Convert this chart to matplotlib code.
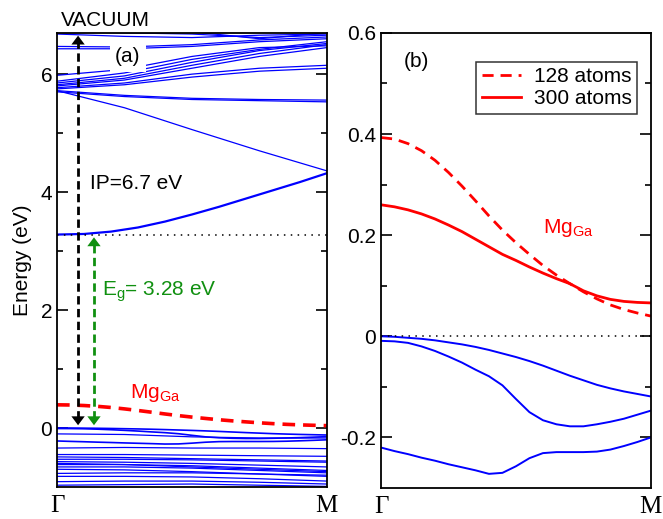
import numpy as np
import matplotlib
matplotlib.use("Agg")
import matplotlib.pyplot as plt
from matplotlib.ticker import FixedLocator, FuncFormatter

plt.rcParams['font.family'] = ['Liberation Sans', 'DejaVu Sans']
plt.rcParams['mathtext.fontset'] = 'custom'
plt.rcParams['mathtext.rm'] = 'Liberation Sans'
plt.rcParams['mathtext.it'] = 'Liberation Sans:italic'
plt.rcParams['axes.unicode_minus'] = False

BLUE = '#0000ff'
RED = '#ff0000'
GREEN = '#109010'

# k path Gamma -> M, coarse grid for the full band structure
k5 = [0.0, 0.25, 0.5, 0.75, 1.0]
# finer grid for the close-up bands
k21 = [i / 20 for i in range(21)]
k11 = [i / 10 for i in range(11)]

gap = 3.28
vacuum = 6.7

# lowest conduction band
cbm = [3.28, 3.29, 3.33, 3.40, 3.50, 3.62, 3.75, 3.89, 4.03, 4.17, 4.32]

# higher conduction bands (values at k5)
cb_high = [
    [5.72, 5.43, 5.06, 4.70, 4.36],
    [5.70, 5.62, 5.57, 5.55, 5.53],
    [5.72, 5.64, 5.59, 5.57, 5.56],
    [5.75, 5.82, 5.95, 6.05, 6.10],
    [5.77, 5.85, 6.00, 6.10, 6.15],
    [5.80, 5.90, 6.10, 6.30, 6.45],
    [5.82, 5.93, 6.15, 6.35, 6.50],
    [5.85, 5.97, 6.20, 6.40, 6.52],
    [5.88, 6.02, 6.25, 6.42, 6.55],
    [5.98, 6.08, 6.30, 6.45, 6.48],
    [6.43, 6.43, 6.47, 6.55, 6.60],
    [6.47, 6.46, 6.50, 6.58, 6.63],
    [6.68, 6.64, 6.62, 6.66, 6.68],
    [6.72, 6.70, 6.68, 6.62, 6.66],
    [6.70, 6.71, 6.72, 6.60, 6.70],
]

# top three valence bands (values at k21)
vb1 = [0.000, -0.001, -0.003, -0.005, -0.008, -0.012, -0.016, -0.021, -0.027, -0.034, -0.041,
       -0.049, -0.058, -0.068, -0.078, -0.087, -0.096, -0.103, -0.109, -0.114, -0.119]
vb2 = [-0.009, -0.010, -0.013, -0.020, -0.029, -0.040, -0.052, -0.066, -0.079, -0.097, -0.124,
       -0.150, -0.166, -0.174, -0.178, -0.178, -0.174, -0.169, -0.163, -0.155, -0.147]
vb3 = [-0.220, -0.227, -0.233, -0.240, -0.246, -0.253, -0.259, -0.265, -0.272, -0.270, -0.257,
       -0.241, -0.231, -0.229, -0.229, -0.229, -0.228, -0.224, -0.217, -0.209, -0.200]

# deeper valence bands (values at k5)
vb_low = [
    [-0.10, -0.11, -0.15, -0.17, -0.17],
    [-0.34, -0.33, -0.34, -0.34, -0.35],
    [-0.45, -0.45, -0.46, -0.47, -0.48],
    [-0.49, -0.50, -0.52, -0.54, -0.56],
    [-0.53, -0.53, -0.54, -0.56, -0.58],
    [-0.57, -0.58, -0.60, -0.63, -0.66],
    [-0.60, -0.62, -0.66, -0.70, -0.74],
    [-0.62, -0.62, -0.64, -0.68, -0.72],
    [-0.66, -0.66, -0.68, -0.72, -0.76],
    [-0.70, -0.71, -0.74, -0.78, -0.82],
    [-0.77, -0.76, -0.76, -0.78, -0.80],
    [-0.82, -0.82, -0.83, -0.86, -0.90],
    [-0.91, -0.90, -0.90, -0.92, -0.95],
    [-0.97, -0.96, -0.95, -0.97, -0.99],
]

# Mg_Ga acceptor band for the two supercells (values at k21)
mg_128 = [0.393, 0.390, 0.381, 0.367, 0.348, 0.324, 0.297, 0.268, 0.238, 0.210, 0.185,
          0.162, 0.140, 0.121, 0.104, 0.088, 0.074, 0.062, 0.053, 0.046, 0.040]
mg_300 = [0.260, 0.256, 0.250, 0.242, 0.232, 0.220, 0.207, 0.192, 0.177, 0.162, 0.150,
          0.137, 0.125, 0.114, 0.104, 0.090, 0.080, 0.073, 0.069, 0.067, 0.066]

kpt_labels = ['Γ', 'M']


def style_axes(ax):
    for s in ax.spines.values():
        s.set_linewidth(1.3)
    ax.tick_params(axis='y', which='both', direction='in', left=True, right=True,
                   labelsize=15, width=1.2)
    ax.tick_params(axis='y', which='major', length=8)
    ax.tick_params(axis='y', which='minor', length=4)
    ax.set_xlim(0, 1)
    ax.set_xticks([0, 1])
    ax.set_xticklabels(kpt_labels, family=['Liberation Serif', 'DejaVu Serif'], fontsize=18)
    ax.tick_params(axis='x', length=0, pad=6)


fig = plt.figure(figsize=(6.63, 5.19), dpi=100)
ax1 = fig.add_axes([0.086, 0.0617, 0.407, 0.875])
ax2 = fig.add_axes([0.5747, 0.0597, 0.407, 0.877])

# ---- (a) full band structure ----
for b in cb_high:
    ax1.plot(k5, b, color=BLUE, lw=0.9)
ax1.plot(k11, cbm, color=BLUE, lw=1.6)
for b in (vb1, vb2, vb3):
    ax1.plot(k21, b, color=BLUE, lw=1.2)
for b in vb_low:
    ax1.plot(k5, b, color=BLUE, lw=0.9)
ax1.plot(k21, mg_128, color=RED, lw=2.6, dashes=(3.5, 2.2))
ax1.axhline(gap, color='k', lw=1.1, ls=(0, (1, 3.5)))

x_ip, x_eg = 0.078, 0.137
ax1.plot([x_ip, x_ip], [0.15, vacuum - 0.15], color='k', lw=2, dashes=(3, 1.6))
for y0, y1 in ((vacuum - 0.3, vacuum), (0.3, 0.0)):
    ax1.annotate('', xy=(x_ip, y1), xytext=(x_ip, y0),
                 arrowprops=dict(arrowstyle='-|>,head_width=0.3', color='k', lw=0,
                                 mutation_scale=16))
ax1.plot([x_eg, x_eg], [0.15, gap - 0.15], color=GREEN, lw=2, dashes=(3, 1.6))
for y0, y1 in ((gap - 0.3, gap), (0.3, 0.0)):
    ax1.annotate('', xy=(x_eg, y1), xytext=(x_eg, y0),
                 arrowprops=dict(arrowstyle='-|>,head_width=0.3', color=GREEN, lw=0,
                                 mutation_scale=16))

ax1.set_ylim(-1.0, vacuum)
ax1.yaxis.set_major_locator(FixedLocator([0, 2, 4, 6]))
ax1.yaxis.set_minor_locator(FixedLocator([1, 3, 5]))
style_axes(ax1)
ax1.set_ylabel('Energy (eV)', fontsize=15, labelpad=6)

ax1.text(0.015, 1.015, 'VACUUM', transform=ax1.transAxes, fontsize=15, va='baseline')
ax1.text(0.263, 0.947, '(a)', transform=ax1.transAxes, fontsize=15, ha='center', va='center',
         zorder=5, bbox=dict(facecolor='white', edgecolor='none', pad=4))
ax1.text(0.122, 4.05, 'IP=6.7 eV', fontsize=15, va='baseline')
ax1.text(0.167, 2.24, r'E$_\mathrm{g}$= 3.28 eV', fontsize=15, va='baseline', color=GREEN)
ax1.text(0.27, 0.51, r'Mg$_\mathrm{Ga}$', fontsize=15, va='baseline', color=RED)

# ---- (b) close-up around the gap ----
ax2.plot(k21, mg_128, color=RED, lw=2, dashes=(4, 2.5), label='128 atoms')
ax2.plot(k21, mg_300, color=RED, lw=2, label='300 atoms')
for b in (vb1, vb2, vb3):
    ax2.plot(k21, b, color=BLUE, lw=1.4)
ax2.axhline(0, color='k', lw=1.1, ls=(0, (1, 3.5)))

ax2.set_ylim(-0.3, 0.6)
ax2.yaxis.set_major_locator(FixedLocator([-0.2, 0, 0.2, 0.4, 0.6]))
ax2.yaxis.set_minor_locator(FixedLocator([-0.1, 0.1, 0.3, 0.5]))
ax2.yaxis.set_major_formatter(FuncFormatter(lambda v, p: '0' if abs(v) < 1e-9 else f'{v:.1f}'))
style_axes(ax2)

leg = ax2.legend(loc='upper right', bbox_to_anchor=(0.948, 0.936), borderaxespad=0,
                 fontsize=15, frameon=True, fancybox=False, handlelength=1.9,
                 handletextpad=0.6, borderpad=0.25, labelspacing=0.15)
leg.get_frame().set_edgecolor('k')
leg.get_frame().set_linewidth(1.1)

ax2.text(0.13, 0.938, '(b)', transform=ax2.transAxes, fontsize=15, ha='center', va='center')
ax2.text(0.60, 0.204, r'Mg$_\mathrm{Ga}$', fontsize=15, va='baseline', color=RED)

fig.savefig('out.png', dpi=100)
